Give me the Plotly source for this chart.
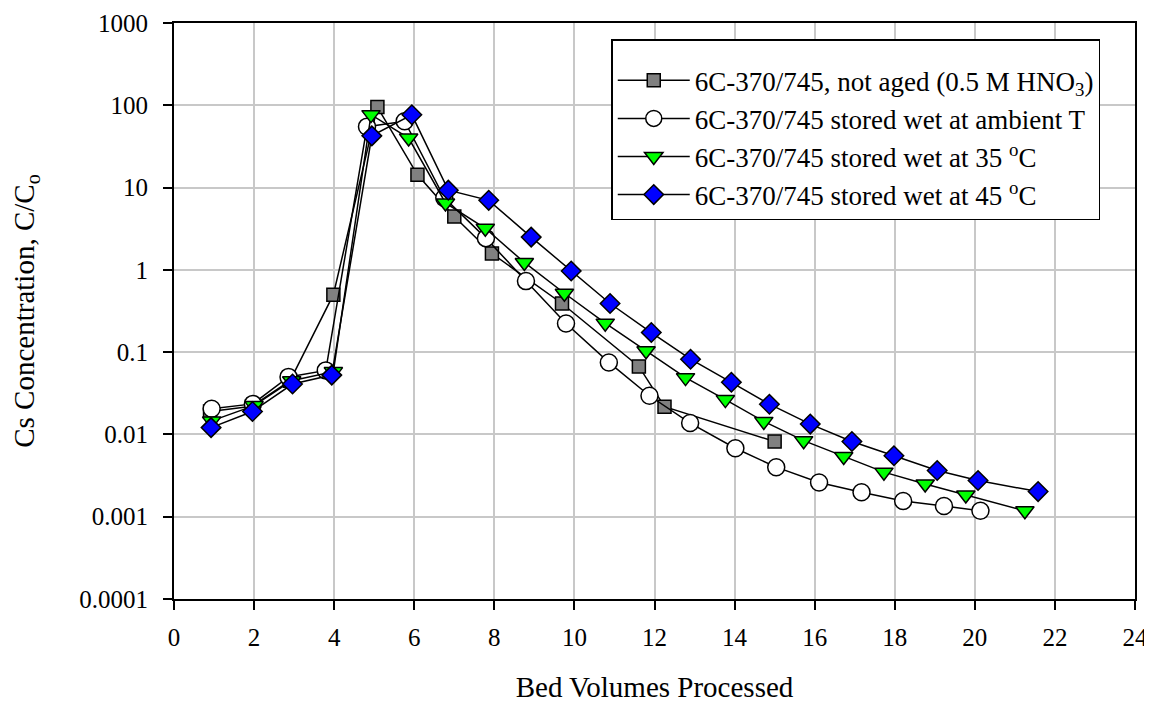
import plotly.graph_objects as go

# ---- data ----
x_notaged = [0.9, 1.95, 2.9, 3.98, 5.08, 6.08, 7.0, 7.94, 9.69, 11.61, 12.25, 15.0]
y_notaged = [0.019, 0.022, 0.045, 0.5, 95, 14.3, 4.45, 1.58, 0.39, 0.067, 0.0217, 0.0082]

x_ambient = [0.94, 1.97, 2.86, 3.79, 4.82, 5.76, 6.75, 7.79, 8.79, 9.79, 10.86, 11.875,
             12.89, 14.02, 15.04, 16.11, 17.17, 18.21, 19.23, 20.14]
y_ambient = [0.0205, 0.0235, 0.05, 0.06, 55, 64, 7.5, 2.43, 0.73, 0.223, 0.075, 0.0295,
             0.01375, 0.0068, 0.004, 0.0026, 0.00198, 0.00155, 0.00135, 0.00118]

x_35c = [0.94, 2.0, 2.94, 3.98, 4.92, 5.86, 6.78, 7.775, 8.75, 9.75, 10.77, 11.79, 12.775,
         13.77, 14.73, 15.725, 16.725, 17.73, 18.76, 19.775, 21.25]
y_35c = [0.0146, 0.0224, 0.045, 0.058, 77, 40, 6.5, 3.2, 1.23, 0.52, 0.225, 0.104, 0.049,
         0.0265, 0.0144, 0.0084, 0.0054, 0.00348, 0.0025, 0.00184, 0.00118]

x_45c = [0.925, 1.96, 2.96, 3.94, 4.94, 5.94, 6.85, 7.86, 8.92, 9.92, 10.89, 11.92, 12.9,
         13.92, 14.87, 15.89, 16.93, 17.98, 19.06, 20.08, 21.58]
y_45c = [0.0121, 0.019, 0.041, 0.0526, 42.5, 76.6, 9.3, 7.0, 2.5, 0.97, 0.39, 0.173, 0.082,
         0.043, 0.0233, 0.01336, 0.0082, 0.0055, 0.00364, 0.00275, 0.00202]

names = [
    "6C-370/745, not aged (0.5 M HNO<sub>3</sub>)",
    "6C-370/745 stored wet at ambient T",
    "6C-370/745 stored wet at 35 <sup>o</sup>C",
    "6C-370/745 stored wet at 45 <sup>o</sup>C",
]

y_tickvals = [0.0001, 0.001, 0.01, 0.1, 1, 10, 100, 1000]
y_ticktext = ["0.0001", "0.001", "0.01", "0.1", "1", "10", "100", "1000"]
x_tickvals = [0, 2, 4, 6, 8, 10, 12, 14, 16, 18, 20, 22, 24]

FONT = "Liberation Serif, Times New Roman, serif"

fig = go.Figure()

series = [
    (x_notaged, y_notaged, names[0], "square", "#808080", 13),
    (x_ambient, y_ambient, names[1], "circle", "#ffffff", 17),
    (x_35c, y_35c, names[2], "triangle-down", "#00ff00", 16),
    (x_45c, y_45c, names[3], "diamond", "#0000ff", 15),
]
for xs, ys, nm, sym, col, sz in series:
    fig.add_trace(go.Scatter(
        x=xs, y=ys, name=nm, mode="lines+markers",
        line=dict(color="black", width=1.5),
        marker=dict(symbol=sym, color=col, size=sz, line=dict(color="black", width=1.5)),
    ))

# The page body has a default 8px margin, so the figure is 8px smaller
fig.update_layout(
    width=1144, height=698,
    margin=dict(l=166, r=17, t=15, b=107, autoexpand=False),
    paper_bgcolor="white", plot_bgcolor="white",
    font=dict(family=FONT, size=24, color="black"),
    showlegend=True,
    legend=dict(
        x=0.455, y=0.972, xanchor="left", yanchor="top",
        bgcolor="white", bordercolor="black", borderwidth=1.5,
        font=dict(family=FONT, size=27, color="black"),
        itemwidth=72, tracegroupgap=0,
        title=dict(text=" ", font=dict(family=FONT, size=12)),
    ),
    xaxis=dict(
        range=[0, 24], tickvals=x_tickvals, automargin=False,
        showline=True, linecolor="black", linewidth=2, mirror=True,
        ticks="outside", ticklen=9, tickwidth=2, tickcolor="black",
        showgrid=True, gridcolor="#c8c8c8", gridwidth=1.5,
        zeroline=False,
        tickfont=dict(family=FONT, size=25),
        ticklabelstandoff=6,
        title=dict(text="Bed Volumes Processed", font=dict(family=FONT, size=29), standoff=27),
    ),
    yaxis=dict(
        type="log", range=[-4, 3], tickvals=y_tickvals, ticktext=y_ticktext, automargin=False,
        showline=True, linecolor="black", linewidth=2, mirror=True,
        ticks="outside", ticklen=9, tickwidth=2, tickcolor="black",
        showgrid=True, gridcolor="#c8c8c8", gridwidth=1.5,
        zeroline=False,
        tickfont=dict(family=FONT, size=25),
        ticklabelstandoff=10,
        title=dict(text="Cs Concentration, C/C<sub>o</sub>", font=dict(family=FONT, size=29), standoff=41),
    ),
)

fig.write_html("out.html")
